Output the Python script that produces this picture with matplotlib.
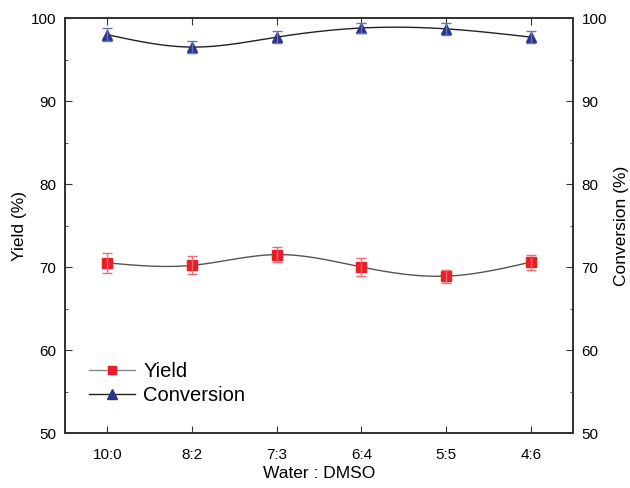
import numpy as np
import matplotlib.pyplot as plt
from matplotlib.ticker import MultipleLocator

plt.rcParams['font.family'] = ['Liberation Sans', 'DejaVu Sans']

ratios = ["10:0", "8:2", "7:3", "6:4", "5:5", "4:6"]
yield_vals = [70.5, 70.2, 71.5, 70.0, 68.9, 70.6]
yield_err = [1.2, 1.1, 0.95, 1.1, 0.8, 0.9]
conv_vals = [98.0, 96.5, 97.7, 98.8, 98.7, 97.7]
conv_err = [0.8, 0.7, 0.7, 0.6, 0.7, 0.7]


def natural_spline(x, y, n=200):
    # cubic spline with natural ends, the smooth line between the points
    x = np.asarray(x, float)
    y = np.asarray(y, float)
    k = len(x)
    h = np.diff(x)
    A = np.zeros((k, k))
    b = np.zeros(k)
    A[0, 0] = A[-1, -1] = 1
    for i in range(1, k - 1):
        A[i, i - 1] = h[i - 1]
        A[i, i] = 2 * (h[i - 1] + h[i])
        A[i, i + 1] = h[i]
        b[i] = 6 * ((y[i + 1] - y[i]) / h[i] - (y[i] - y[i - 1]) / h[i - 1])
    m = np.linalg.solve(A, b)
    xs = np.linspace(x[0], x[-1], n)
    ys = np.empty_like(xs)
    for j, t in enumerate(xs):
        i = min(np.searchsorted(x, t, side='right') - 1, k - 2)
        dx = t - x[i]
        a = (m[i + 1] - m[i]) / (6 * h[i])
        c = (y[i + 1] - y[i]) / h[i] - h[i] * (2 * m[i] + m[i + 1]) / 6
        ys[j] = y[i] + c * dx + m[i] / 2 * dx ** 2 + a * dx ** 3
    return xs, ys


fig = plt.figure(figsize=(6.3, 4.88), dpi=100)
ax = fig.add_axes([0.103, 0.1127, 0.807, 0.8503])
ax2 = ax.twinx()

pos = np.arange(len(ratios))

xs, ys = natural_spline(pos, yield_vals)
ax.plot(xs, ys, color='#555555', lw=1)
ax.plot(pos, yield_vals, 's', color='#ee1c25', ms=6.5)
ax.errorbar(pos, yield_vals, yerr=yield_err, fmt='none', ecolor='#f26a72',
            elinewidth=1, capsize=3.5, capthick=1)

xs, ys = natural_spline(pos, conv_vals)
ax2.plot(xs, ys, color='#222222', lw=1)
ax2.plot(pos, conv_vals, '^', color='#2b3390', ms=7.5)
ax2.errorbar(pos, conv_vals, yerr=conv_err, fmt='none', ecolor='#6a70c0',
             elinewidth=1, capsize=3.5, capthick=1)

h1, = ax.plot([], [], '-s', color='#888888', mfc='#ee1c25', mec='#ee1c25', ms=6, lw=1)
h2, = ax.plot([], [], '-^', color='#222222', mfc='#2b3390', mec='#2b3390', ms=7, lw=1)
ax.legend([h1, h2], ["Yield", "Conversion"], loc='upper left',
          bbox_to_anchor=(0.012, 0.215), frameon=False, fontsize=14.5,
          handlelength=2.3, handletextpad=0.4, labelspacing=0.25)

for a in (ax, ax2):
    a.set_ylim(50, 100)
    a.yaxis.set_major_locator(MultipleLocator(10))
    a.yaxis.set_minor_locator(MultipleLocator(5))
    a.tick_params(axis='both', which='both', direction='in', labelsize=11,
                  color='#333333')
    a.tick_params(which='major', length=5)
    a.tick_params(which='minor', length=2.5)
    for s in a.spines.values():
        s.set_linewidth(1.3)
        s.set_color('#333333')

ax.set_xlim(-0.5, 5.5)
ax.set_xticks(pos)
ax.set_xticklabels(ratios)
ax.tick_params(axis='x', top=True, pad=11)
ax.tick_params(axis='y', pad=6)
ax2.tick_params(axis='y', pad=6)

ax.set_xlabel("Water : DMSO", fontsize=12.5, labelpad=3)
ax.set_ylabel("Yield (%)", fontsize=12.5, labelpad=3)
ax2.set_ylabel("Conversion (%)", fontsize=12.5, labelpad=5)

fig.savefig("out.png", dpi=100)
